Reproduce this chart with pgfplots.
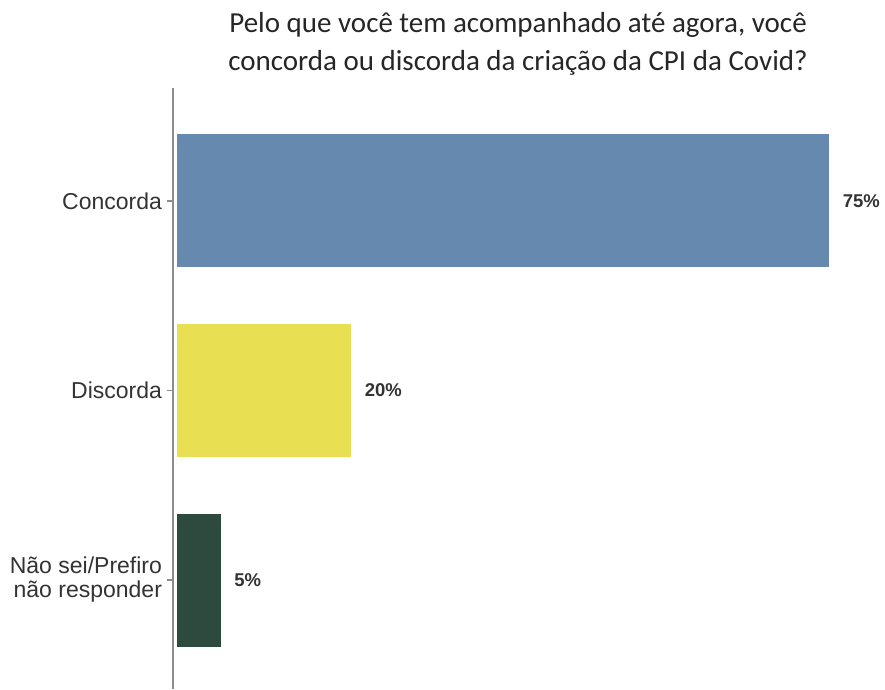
\documentclass[border=0pt]{standalone}
\usepackage{pgfplots}
\pgfplotsset{compat=1.18}
\usepackage{fontspec}
\setmainfont{Liberation Sans}
\newfontfamily\titlefont{Carlito}
\definecolor{cblue}{HTML}{6689B0}
\definecolor{cyellow}{HTML}{E9DF53}
\definecolor{cgreen}{HTML}{2C4A3E}
\definecolor{axgray}{HTML}{8C8C8C}
\definecolor{txt}{HTML}{333333}
\begin{document}
\begin{tikzpicture}[x=1pt,y=1pt]
\path[use as bounding box] (0,0) rectangle (885,689);
\node[align=center,font=\titlefont\fontsize{29}{38}\selectfont,text=black!85] at (518,645) {Pelo que você tem acompanhado até agora, você\\concorda ou discorda da criação da CPI da Covid?};
\begin{axis}[
  at={(173pt,0pt)}, anchor=south west,
  scale only axis, width=712pt, height=601pt,
  xbar, bar width=133pt, bar shift=0pt,
  xmin=-0.5, xmax=81.4,
  ymin=-0.575, ymax=2.596,
  axis x line=none,
  axis y line*=left,
  y axis line style={axgray, line width=1.6pt, -},
  ytick={0,1,2},
  yticklabels={{Não sei/Prefiro\\não responder},Discorda,Concorda},
  yticklabel style={align=right, font=\fontsize{23}{24}\selectfont, text=txt, xshift=-1.5pt},
  major tick length=6pt,
  tick style={axgray, line width=1.2pt},
  tick align=outside,
  /pgf/number format/assume math mode=true,
  nodes near coords={\pgfmathprintnumber{\pgfplotspointmeta}\%},
  nodes near coords style={font=\bfseries\fontsize{18.5}{20}\selectfont, text=txt, anchor=west, xshift=10pt},
  point meta=explicit,
]
\addplot[draw=none, fill=cblue] coordinates {(75,2) [75]};
\addplot[draw=none, fill=cyellow] coordinates {(20,1) [20]};
\addplot[draw=none, fill=cgreen] coordinates {(5,0) [5]};
\end{axis}
\end{tikzpicture}
\end{document}
